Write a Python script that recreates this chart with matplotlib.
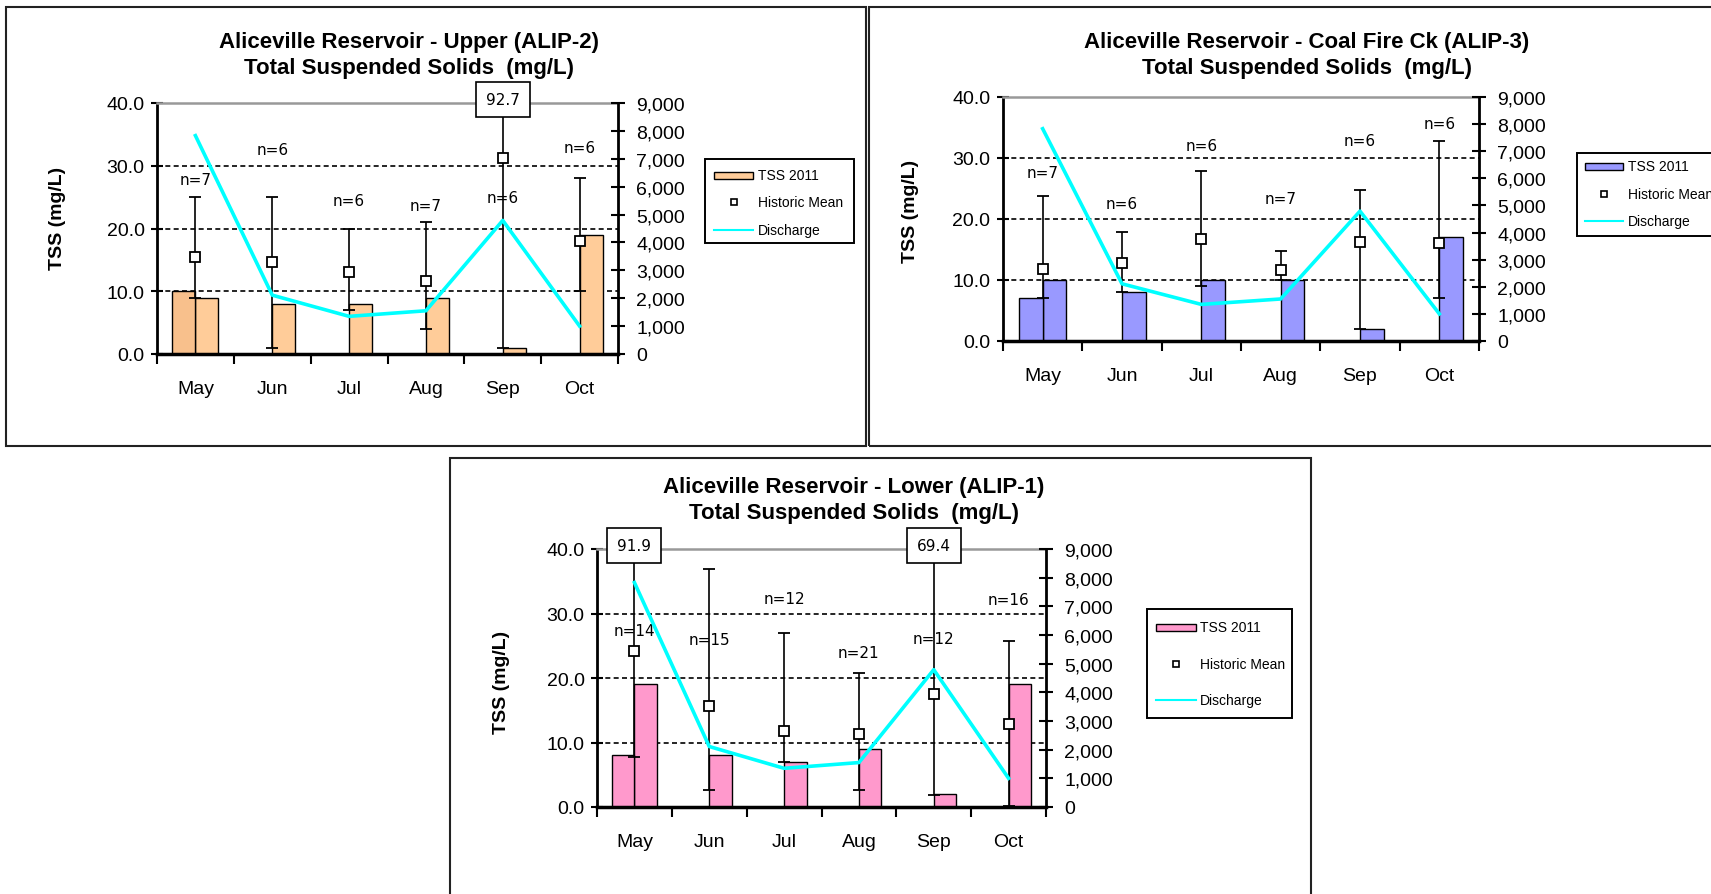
import numpy as np
import matplotlib
matplotlib.use("Agg")
import matplotlib.pyplot as plt
from matplotlib.patches import Rectangle
from matplotlib.lines import Line2D
from matplotlib.ticker import FormatStrFormatter, FuncFormatter

plt.rcParams['font.family'] = ['Liberation Sans', 'DejaVu Sans']

# ------------------------------------------------------------
# data
# ------------------------------------------------------------
months = ["May", "Jun", "Jul", "Aug", "Sep", "Oct"]
discharge = [7830, 2110, 1350, 1550, 4790, 1000]

upper_tss = [9, 8, 8, 9, 1, 19]
upper_may_first = 10
upper_mean = [15.5, 14.7, 13.0, 11.6, 31.2, 18.0]
upper_min = [9, 1, 7, 4, 1, 10]
upper_max = [25, 25, 20, 21, 92.7, 28]
upper_n = [7, 6, 6, 7, 6, 6]
upper_n_y = [27.8, 32.6, 24.4, 23.6, 25.0, 32.9]

coal_tss = [10, 8, 10, 10, 2, 17]
coal_may_first = 7
coal_mean = [11.8, 12.8, 16.8, 11.6, 16.2, 16.1]
coal_min = [7, 8, 9, 10, 2, 7]
coal_max = [23.8, 17.8, 27.8, 14.8, 24.8, 32.8]
coal_n = [7, 6, 6, 7, 6, 6]
coal_n_y = [27.6, 22.5, 32.1, 23.4, 32.9, 35.6]

lower_tss = [19, 8, 7, 9, 2, 19]
lower_may_first = 8
lower_mean = [24.2, 15.6, 11.75, 11.3, 17.5, 12.8]
lower_min = [7.8, 2.7, 7, 2.7, 1.9, 0.2]
lower_max = [91.9, 36.9, 26.9, 20.75, 69.4, 25.7]
lower_n = [14, 15, 12, 21, 12, 16]
lower_n_y = [27.4, 25.9, 32.3, 24.0, 26.2, 32.2]

W, H = 1711, 895
CYAN = "#00FFFF"


def fx(x):
    return x / W


def fy(y):
    return 1 - y / H


fig = plt.figure(figsize=(W / 100, H / 100), dpi=100)


def frame(x0, y0, x1, y1):
    fig.patches.append(Rectangle((fx(x0), fy(y1)), (x1 - x0) / W, (y1 - y0) / H,
                                 transform=fig.transFigure, fill=False,
                                 edgecolor="#222222", linewidth=1.5))


def legend_box(box, hx0, hx1, tx, rows, color):
    x0, y0, x1, y1 = box
    fig.patches.append(Rectangle((fx(x0), fy(y1)), (x1 - x0) / W, (y1 - y0) / H,
                                 transform=fig.transFigure, facecolor="white",
                                 edgecolor="black", linewidth=1.4))
    fig.patches.append(Rectangle((fx(hx0), fy(rows[0] + 3.5)), (hx1 - hx0) / W, 7 / H,
                                 transform=fig.transFigure, facecolor=color,
                                 edgecolor="black", linewidth=1.0))
    fig.add_artist(Line2D([fx((hx0 + hx1) / 2)], [fy(rows[1])], marker="s", ms=5,
                          mfc="white", mec="black", mew=1.2, linestyle="none",
                          transform=fig.transFigure))
    fig.add_artist(Line2D([fx(hx0), fx(hx1)], [fy(rows[2])] * 2, color=CYAN,
                          lw=1.5, transform=fig.transFigure))
    for lab, ry in zip(["TSS 2011", "Historic Mean", "Discharge"], rows):
        fig.text(fx(tx), fy(ry), lab, va="center", ha="left", fontsize=10)


def panel(rect, title, title_xy, ylab_xy, tss, may_first, mean, lo, hi, ns, n_y,
          color, first_color):
    left, top, right, bottom = rect
    ax = fig.add_axes([fx(left), fy(bottom), (right - left) / W, (bottom - top) / H])
    x = np.arange(len(months))

    for lvl in [10, 20, 30]:
        ax.axhline(lvl, color="black", lw=1.2, ls=(0, (3, 2)), zorder=0.5)

    ax.bar(x, tss, width=0.3, align="edge", color=color, edgecolor="black",
           linewidth=1.0, zorder=2)
    ax.bar(x[0], may_first, width=-0.3, align="edge", color=first_color,
           edgecolor="black", linewidth=1.0, zorder=2)

    mean = np.array(mean)
    yerr = [mean - np.array(lo), np.array(hi) - mean]
    ax.errorbar(x, mean, yerr=yerr, fmt="s", ms=7, mfc="white", mec="black",
                mew=1.3, ecolor="black", elinewidth=1.2, capsize=4,
                capthick=1.2, zorder=3)

    for i, (n, ny) in enumerate(zip(ns, n_y)):
        ax.text(i, ny, f"n={n}", ha="center", va="center", fontsize=11,
                family="DejaVu Sans", zorder=4)

    ax.set_xlim(-0.5, 5.5)
    ax.set_ylim(0, 40)
    ax.set_yticks(range(0, 41, 10))
    ax.yaxis.set_major_formatter(FormatStrFormatter("%.1f"))
    ax.set_xticks(x)
    ax.set_xticklabels(months)
    ax.set_xticks(np.arange(-0.5, 6, 1), minor=True)
    ax.tick_params(axis="x", which="major", length=0, pad=19, labelsize=14)
    ax.tick_params(axis="x", which="minor", length=7, width=1.5, direction="out")
    ax.tick_params(axis="y", length=8, width=1.5, direction="inout", pad=5,
                   labelsize=14)
    ax.spines["right"].set_visible(False)
    ax.spines["left"].set_linewidth(2)
    ax.spines["bottom"].set_linewidth(2.5)
    ax.spines["top"].set_color("#999999")
    ax.spines["top"].set_linestyle((0, (1.5, 1)))
    ax.spines["top"].set_linewidth(1.8)

    ax2 = ax.twinx()
    ax2.plot(x, discharge, color=CYAN, lw=2.6, zorder=3)
    ax2.set_ylim(0, 9000)
    ax2.set_yticks(range(0, 9001, 1000))
    ax2.yaxis.set_major_formatter(FuncFormatter(lambda v, p: f"{int(v):,}"))
    ax2.tick_params(axis="y", length=10, width=1.5, direction="inout", pad=8,
                    labelsize=14)
    for s in ["top", "left", "bottom"]:
        ax2.spines[s].set_visible(False)
    ax2.spines["right"].set_linewidth(2)

    # values that run off the top of the scale
    for i, v in enumerate(hi):
        if v > 40:
            ax2.text(i, 9000 * 40.5 / 40, f"{v}", ha="center", va="center",
                     fontsize=11, family="DejaVu Sans", zorder=6,
                     bbox=dict(boxstyle="square,pad=0.65", fc="white",
                               ec="black", lw=1.2))

    tx, ty1, ty2 = title_xy
    fig.text(fx(tx), fy(ty1), title, ha="center", va="center", fontsize=16,
             fontweight="bold")
    fig.text(fx(tx), fy(ty2), "Total Suspended Solids  (mg/L)", ha="center",
             va="center", fontsize=16, fontweight="bold")
    fig.text(fx(ylab_xy[0]), fy(ylab_xy[1]), "TSS (mg/L)", rotation=90,
             ha="center", va="center", fontsize=14, fontweight="bold")
    return ax


# panel frames
frame(5.5, 7.5, 866, 446.5)
frame(869, 7.5, 1760, 447)
frame(449.5, 459, 1310.5, 950)

panel((157, 104, 618, 355), "Aliceville Reservoir - Upper (ALIP-2)",
      (409, 42.7, 68.3), (57, 218),
      upper_tss, upper_may_first, upper_mean, upper_min, upper_max,
      upper_n, upper_n_y, "#FFCC99", "#F8C08C")
legend_box((705, 160, 854, 244), 714, 753, 758, (176, 203, 231), "#FFCC99")

panel((1003, 98, 1479, 342), "Aliceville Reservoir - Coal Fire Ck (ALIP-3)",
      (1307, 42.7, 68.3), (911, 211),
      coal_tss, coal_may_first, coal_mean, coal_min, coal_max,
      coal_n, coal_n_y, "#9999FF", "#9999FF")
legend_box((1577, 154, 1760, 237), 1585, 1623, 1628, (167, 195, 222), "#9999FF")

panel((597, 550, 1046, 808), "Aliceville Reservoir - Lower (ALIP-1)",
      (854, 487.3, 513.3), (501, 682.5),
      lower_tss, lower_may_first, lower_mean, lower_min, lower_max,
      lower_n, lower_n_y, "#FF99CC", "#FF99CC")
legend_box((1147, 610, 1292, 719), 1156, 1196, 1200, (628, 665, 701), "#FF99CC")

fig.savefig("out.png", dpi=100)
